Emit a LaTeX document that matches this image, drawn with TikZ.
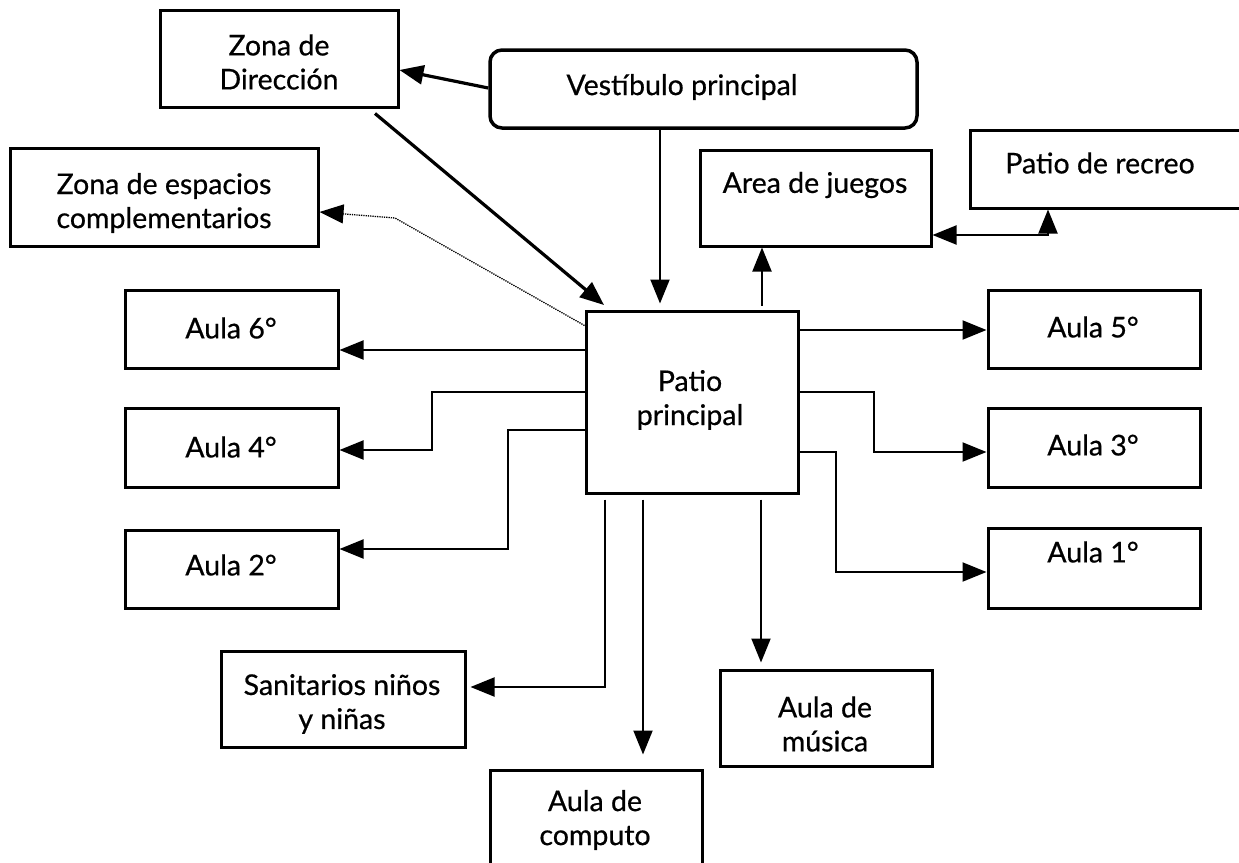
\documentclass[tikz,border=0pt]{standalone}
\usepackage{fontspec}
\setmainfont{Lato}[FakeBold=0.6]
\usetikzlibrary{arrows.meta,calc}
\begin{document}
\begin{tikzpicture}[x=1pt,y=-1pt,
  box/.style={draw, line width=3pt, inner sep=0pt},
  txt/.style={inner sep=0pt, align=center, font=\fontsize{28.5}{34}\selectfont},
  con/.style={line width=2pt, -{Triangle[length=24pt,width=19pt]}},
  thickcon/.style={line width=3.2pt, -{Triangle[length=24pt,width=19pt]}},
  dotcon/.style={line width=1.3pt, densely dotted, -{Triangle[length=24pt,width=19pt]}}]
\useasboundingbox (0,0) rectangle (1239,862);
\clip (0,0) rectangle (1239,862);
\fill[white] (0,0) rectangle (1239,862);
% boxes
\node[box, minimum width=238pt, minimum height=97pt] (dir) at (279,58.5) {};
\node[box, line width=3.5pt, rounded corners=12pt, minimum width=427pt, minimum height=78pt] (vest) at (703.5,89) {};
\node[box, minimum width=308pt, minimum height=98pt] (compl) at (164,197) {};
\node[box, minimum width=231pt, minimum height=96pt] (area) at (815.5,198) {};
\node[box, minimum width=300pt, minimum height=78pt] (rec) at (1120,169) {};
\node[box, minimum width=212pt, minimum height=182pt] (pp) at (692,402) {};
\node[box, minimum width=213pt, minimum height=78pt] (a6) at (231.5,329) {};
\node[box, minimum width=213pt, minimum height=79pt] (a4) at (231.5,447.5) {};
\node[box, minimum width=213pt, minimum height=78pt] (a2) at (231.5,569) {};
\node[box, minimum width=212pt, minimum height=78pt] (a5) at (1094,329) {};
\node[box, minimum width=212pt, minimum height=79pt] (a3) at (1094,447.5) {};
\node[box, minimum width=212pt, minimum height=80pt] (a1) at (1094,568) {};
\node[box, minimum width=244pt, minimum height=96pt] (san) at (343,699) {};
\node[box, minimum width=212pt, minimum height=96pt] (mus) at (826,718) {};
\node[box, minimum width=212pt, minimum height=110pt] (comp) at (596,825) {};
% texts
\node[txt] (tdir) at (279,62) {Zona de\\Dirección};
\node[txt] (tvest) at (682,87) {Vestíbulo principal};
\node[txt] (tcompl) at (164,203) {Zona de espacios\\complementarios};
\node[txt] (tarea) at (815,185) {Area de juegos};
\node[txt] (trec) at (1100,163) {Patio de recreo};
\node[txt] (tpp) at (690,400) {Patio\\principal};
\node[txt] (t6) at (231,328) {Aula 6°};
\node[txt] (t4) at (231,447) {Aula 4°};
\node[txt] (t2) at (231,565) {Aula 2°};
\node[txt] (t5) at (1093,327) {Aula 5°};
\node[txt] (t3) at (1093,445) {Aula 3°};
\node[txt] (t1) at (1093,552) {Aula 1°};
\node[txt] (tsan) at (342,704) {Sanitarios niños\\y niñas};
\node[txt] (tmus) at (825,724) {Aula de\\música};
\node[txt] (tcomp) at (595,820) {Aula de\\computo};
% connectors
\draw[thickcon] (vest.west |- 0,88) -- (dir.east |- 0,70);
\draw[thickcon] ($(dir.south)+(96,5)$) -- (604,305);
\draw[con, shorten >=6pt] (vest.south -| 660,0) -- (pp.north -| 660,0);
\draw[dotcon] ($(pp.north west)+(0,16)$) -- (395,218) -- (compl.east |- 0,212);
\draw[con, shorten <=4pt] (pp.north -| 762,0) -- (area.south -| 762,0);
\draw[line width=2pt, {Triangle[length=24pt,width=19pt]}-{Triangle[length=24pt,width=19pt]}]
  (area.east |- 0,235) -- (1048,235) -- (rec.south -| 1048,0);
% left
\draw[con] (pp.west |- 0,350) -- (a6.east |- 0,350);
\draw[con] (pp.west |- 0,392) -- (432,392) -- (432,450) -- (a4.east |- 0,450);
\draw[con] (pp.west |- 0,430) -- (508,430) -- (508,549) -- (a2.east |- 0,549);
% right
\draw[con] (pp.east |- 0,330) -- (a5.west |- 0,330);
\draw[con] (pp.east |- 0,392) -- (874,392) -- (874,452) -- (a3.west |- 0,452);
\draw[con] (pp.east |- 0,452) -- (836,452) -- (836,572) -- (a1.west |- 0,572);
% bottom
\draw[con, shorten <=5pt, shorten >=4pt] (pp.south -| 605,0) -- (605,687) -- (san.east |- 0,687);
\draw[con, shorten <=5pt, shorten >=14pt] (pp.south -| 643,0) -- (comp.north -| 643,0);
\draw[con, shorten <=5pt, shorten >=6pt] (pp.south -| 761,0) -- (mus.north -| 761,0);
\end{tikzpicture}
\end{document}
